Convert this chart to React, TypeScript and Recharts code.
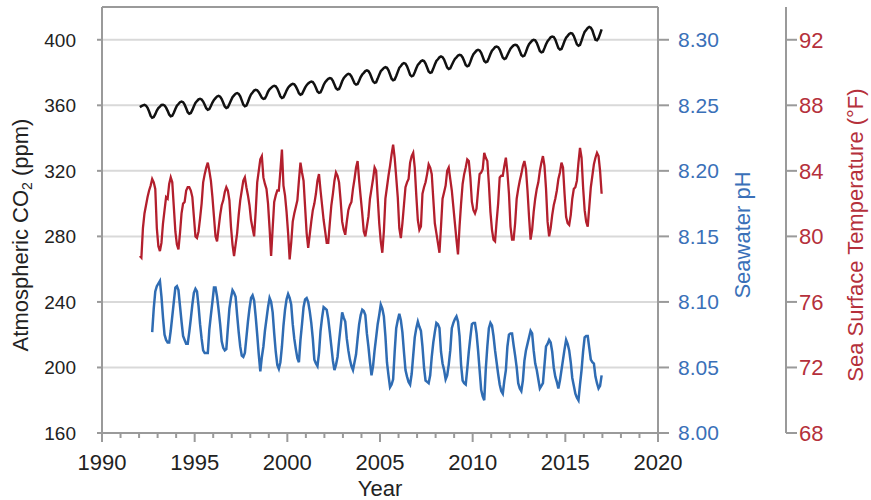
import React from "react";
import { LineChart, Line, XAxis, YAxis, CartesianGrid, ReferenceLine } from "recharts";

const FONT = '"Liberation Sans", Arial, Helvetica, sans-serif';
const AXIS_GRAY = "#9a9a9a";
const GRID_GRAY = "#d9d9d9";
const CO2_COLOR = "#111111";
const SST_COLOR = "#b31f2d";
const PH_COLOR = "#2f6cb3";
const SST_TEXT = "#b5303b";
const PH_TEXT = "#3a70b8";
const TICK_TEXT = "#222222";

const firstYear = 1992;
const labeledYears = [1990, 1995, 2000, 2005, 2010, 2015, 2020];
const co2Ticks = [160, 200, 240, 280, 320, 360, 400];
const phTicks = [8.0, 8.05, 8.1, 8.15, 8.2, 8.25, 8.3];
const sstTicks = [68, 72, 76, 80, 84, 88, 92];

// monthly values, one row per year (Jan..Dec), 1992-2016
const co2ByYear = [
  [358.9, 359.5, 360.0, 360.3, 359.8, 358.5, 356.2, 353.6, 352.4, 352.8, 354.6, 356.8],
  [358.3, 359.2, 360.2, 360.3, 359.9, 358.6, 356.6, 354.4, 353.3, 353.6, 355.5, 357.8],
  [359.8, 360.8, 361.9, 362.3, 361.9, 360.4, 358.2, 355.8, 354.9, 355.3, 357.2, 359.4],
  [361.5, 362.6, 363.6, 364.0, 363.6, 362.3, 360.4, 358.2, 357.3, 357.7, 359.6, 361.7],
  [363.3, 364.4, 365.4, 365.8, 365.3, 363.8, 361.6, 359.3, 358.4, 358.8, 360.8, 362.9],
  [365.0, 366.1, 367.1, 367.5, 367.0, 365.5, 363.0, 360.4, 359.4, 359.8, 362.0, 364.6],
  [366.7, 367.8, 369.0, 369.5, 369.2, 368.0, 366.4, 364.6, 363.9, 364.2, 366.0, 368.3],
  [369.7, 370.6, 371.5, 371.9, 371.6, 370.2, 368.0, 365.5, 364.5, 364.9, 366.8, 369.0],
  [370.8, 371.8, 372.7, 373.1, 372.8, 371.5, 369.6, 367.4, 366.5, 366.9, 368.8, 370.8],
  [372.3, 373.3, 374.1, 374.5, 374.2, 372.8, 370.7, 368.4, 367.6, 368.0, 370.0, 372.4],
  [374.1, 375.2, 376.2, 376.6, 376.3, 374.9, 372.7, 370.4, 369.6, 370.0, 372.1, 374.7],
  [376.6, 377.7, 378.7, 379.2, 378.9, 377.6, 375.6, 373.4, 372.6, 373.0, 375.0, 377.2],
  [378.8, 379.8, 380.9, 381.3, 380.9, 379.4, 377.0, 374.6, 373.7, 374.1, 376.3, 378.7],
  [380.8, 381.8, 382.8, 383.3, 382.9, 381.3, 378.8, 376.2, 375.3, 375.7, 377.9, 380.4],
  [382.9, 384.0, 385.2, 385.8, 385.4, 383.8, 381.3, 378.6, 377.7, 378.1, 380.2, 382.6],
  [384.7, 385.7, 386.9, 387.4, 387.0, 385.5, 383.1, 380.6, 379.8, 380.2, 382.4, 384.9],
  [387.1, 388.1, 389.3, 389.8, 389.4, 387.9, 385.5, 383.0, 382.2, 382.6, 384.6, 386.6],
  [388.3, 389.3, 390.4, 390.8, 390.5, 389.2, 387.0, 384.6, 383.8, 384.2, 386.5, 389.2],
  [391.2, 392.3, 393.4, 393.9, 393.5, 392.0, 389.6, 387.1, 386.3, 386.7, 388.9, 391.3],
  [393.3, 394.4, 395.5, 395.9, 395.5, 394.0, 391.6, 389.1, 388.3, 388.7, 390.7, 392.7],
  [394.6, 395.6, 396.6, 397.0, 396.8, 395.5, 393.2, 390.7, 389.9, 390.3, 392.6, 395.3],
  [397.3, 398.4, 399.5, 400.0, 399.7, 398.2, 395.7, 393.1, 392.3, 392.7, 394.9, 397.3],
  [399.2, 400.3, 401.5, 402.0, 401.7, 400.1, 397.5, 394.9, 394.0, 394.4, 396.7, 399.2],
  [401.3, 402.4, 403.6, 404.1, 403.8, 402.3, 399.8, 397.2, 396.4, 396.9, 399.5, 402.4],
  [404.8, 406.0, 407.2, 407.8, 407.4, 405.8, 402.8, 400.0, 399.7, 401.0, 403.6, 406.3],
];

const sstByYear = [
  [78.8, 78.7, 80.5, 81.4, 81.9, 82.4, 82.8, 83.1, 83.5, 83.3, 82.9, 80.5],
  [79.4, 79.1, 79.6, 80.8, 81.6, 82.4, 82.3, 83.2, 83.6, 83.3, 81.8, 80.3],
  [79.5, 79.2, 80.2, 81.4, 82.0, 82.1, 82.8, 83.0, 83.0, 82.8, 82.4, 81.2],
  [80.0, 79.9, 80.3, 81.1, 82.0, 83.3, 83.8, 84.2, 84.5, 84.0, 83.4, 82.4],
  [81.2, 80.0, 79.7, 80.5, 81.3, 81.9, 82.2, 82.7, 83.0, 82.8, 82.2, 80.6],
  [79.5, 78.8, 79.5, 80.2, 81.3, 82.2, 82.8, 83.4, 83.6, 83.0, 82.5, 81.9],
  [81.0, 80.5, 80.0, 81.5, 83.3, 84.0, 84.7, 84.9, 83.6, 83.2, 82.9, 82.0],
  [80.5, 78.8, 80.5, 82.1, 82.5, 82.8, 82.8, 84.0, 85.3, 83.1, 82.5, 81.5],
  [80.2, 78.6, 79.6, 80.9, 81.4, 81.8, 82.2, 83.4, 84.5, 83.9, 83.4, 81.8],
  [80.2, 79.3, 80.1, 80.9, 81.6, 82.0, 82.6, 83.4, 83.8, 82.8, 81.9, 81.0],
  [80.3, 79.6, 79.6, 80.8, 81.9, 82.6, 83.4, 83.9, 83.7, 83.3, 82.2, 80.9],
  [80.4, 80.1, 80.9, 81.6, 81.9, 82.1, 82.9, 83.5, 84.2, 84.6, 83.4, 82.4],
  [81.4, 80.3, 80.0, 80.6, 81.2, 82.3, 82.9, 83.5, 84.2, 84.0, 82.4, 80.8],
  [79.7, 79.0, 80.3, 82.3, 83.0, 83.7, 84.3, 85.0, 85.6, 84.8, 83.6, 82.4],
  [80.5, 79.9, 80.8, 81.9, 83.0, 83.3, 83.5, 84.5, 84.9, 85.1, 84.2, 82.5],
  [81.0, 80.4, 80.6, 82.6, 83.0, 83.3, 83.8, 84.4, 84.2, 83.8, 82.3, 80.8],
  [80.2, 79.6, 79.0, 80.6, 82.3, 82.7, 83.1, 84.0, 84.2, 83.5, 82.8, 81.8],
  [80.8, 79.8, 78.9, 80.6, 82.0, 83.2, 83.8, 84.2, 84.7, 84.6, 83.6, 82.1],
  [81.6, 81.4, 81.7, 82.8, 83.8, 83.9, 84.1, 85.1, 84.8, 84.6, 83.2, 81.5],
  [80.4, 79.8, 79.7, 80.9, 82.0, 83.6, 83.7, 83.7, 84.3, 84.8, 83.9, 82.6],
  [80.6, 79.8, 79.8, 80.8, 82.3, 82.9, 83.4, 83.8, 84.3, 84.6, 84.1, 82.8],
  [81.2, 79.8, 80.4, 81.5, 82.3, 82.9, 83.3, 84.0, 84.5, 84.9, 84.3, 82.9],
  [80.9, 80.0, 80.5, 81.3, 81.9, 82.3, 82.8, 83.5, 83.9, 84.5, 84.2, 82.6],
  [81.2, 80.8, 80.7, 81.3, 82.3, 82.9, 83.0, 83.4, 84.5, 85.4, 84.8, 83.0],
  [81.6, 80.9, 80.6, 81.8, 83.0, 83.7, 84.4, 84.8, 85.1, 84.9, 84.0, 82.6],
];

const phByYear = [
  [null, null, null, null, null, null, null, null, 8.077, 8.095, 8.108, 8.112],
  [8.114, 8.116, 8.104, 8.088, 8.075, 8.071, 8.069, 8.069, 8.078, 8.089, 8.1, 8.111],
  [8.112, 8.109, 8.097, 8.085, 8.074, 8.071, 8.068, 8.068, 8.077, 8.087, 8.098, 8.107],
  [8.11, 8.108, 8.097, 8.083, 8.072, 8.063, 8.061, 8.061, 8.061, 8.079, 8.09, 8.1],
  [8.111, 8.111, 8.104, 8.094, 8.083, 8.07, 8.065, 8.063, 8.064, 8.08, 8.095, 8.103],
  [8.109, 8.107, 8.104, 8.09, 8.077, 8.066, 8.059, 8.058, 8.061, 8.073, 8.085, 8.095],
  [8.103, 8.105, 8.101, 8.089, 8.075, 8.06, 8.047, 8.058, 8.066, 8.078, 8.087, 8.096],
  [8.103, 8.1, 8.092, 8.076, 8.062, 8.052, 8.049, 8.054, 8.066, 8.082, 8.094, 8.102],
  [8.106, 8.103, 8.098, 8.083, 8.072, 8.064, 8.057, 8.054, 8.071, 8.083, 8.096, 8.102],
  [8.103, 8.1, 8.093, 8.084, 8.072, 8.056, 8.053, 8.051, 8.061, 8.078, 8.088, 8.096],
  [8.095, 8.094, 8.087, 8.077, 8.066, 8.055, 8.048, 8.052, 8.058, 8.07, 8.081, 8.092],
  [8.088, 8.085, 8.072, 8.063, 8.056, 8.051, 8.048, 8.054, 8.06, 8.072, 8.083, 8.09],
  [8.094, 8.093, 8.09, 8.076, 8.066, 8.054, 8.044, 8.051, 8.063, 8.073, 8.083, 8.09],
  [8.098, 8.095, 8.089, 8.074, 8.054, 8.044, 8.035, 8.037, 8.041, 8.062, 8.08, 8.086],
  [8.091, 8.086, 8.077, 8.062, 8.048, 8.043, 8.039, 8.037, 8.045, 8.059, 8.073, 8.08],
  [8.085, 8.081, 8.078, 8.066, 8.05, 8.04, 8.039, 8.038, 8.044, 8.058, 8.069, 8.077],
  [8.084, 8.083, 8.08, 8.062, 8.053, 8.048, 8.041, 8.044, 8.052, 8.063, 8.08, 8.084],
  [8.087, 8.089, 8.085, 8.074, 8.052, 8.04, 8.038, 8.037, 8.049, 8.062, 8.073, 8.083],
  [8.084, 8.084, 8.076, 8.063, 8.048, 8.033, 8.028, 8.025, 8.049, 8.066, 8.08, 8.084],
  [8.082, 8.074, 8.063, 8.054, 8.045, 8.037, 8.032, 8.03, 8.04, 8.048, 8.066, 8.075],
  [8.076, 8.076, 8.067, 8.059, 8.05, 8.038, 8.034, 8.032, 8.04, 8.055, 8.063, 8.068],
  [8.073, 8.078, 8.076, 8.063, 8.053, 8.048, 8.041, 8.034, 8.036, 8.038, 8.052, 8.066],
  [8.068, 8.071, 8.069, 8.062, 8.05, 8.043, 8.039, 8.034, 8.04, 8.048, 8.056, 8.064],
  [8.071, 8.068, 8.063, 8.054, 8.042, 8.036, 8.03, 8.027, 8.025, 8.037, 8.048, 8.062],
  [8.073, 8.074, 8.074, 8.065, 8.056, 8.054, 8.053, 8.043, 8.038, 8.034, 8.036, 8.044],
];

const yearTicks = Array.from({ length: 31 }, (_, i) => 1990 + i);

const data = co2ByYear.flatMap((row, yi) =>
  row.map((co2, m) => ({
    year: firstYear + yi + (m + 0.5) / 12,
    co2,
    sst: sstByYear[yi][m],
    ph: phByYear[yi][m],
  }))
);

const YearTick = (props: any) => {
  const { x, y, payload } = props;
  const major = labeledYears.includes(payload.value);
  return (
    <g>
      <line x1={x} x2={x} y1={y} y2={y + (major ? 9 : 5)} stroke={AXIS_GRAY} strokeWidth={2} />
      {major && (
        <text x={x} y={y + 37} textAnchor="middle" fontSize={22} fill={TICK_TEXT}>
          {payload.value}
        </text>
      )}
    </g>
  );
};

// rotated axis title, baseline at viewBox.x + dx
const verticalTitle = (dx: number, color: string, text: React.ReactNode) => (p: any) => {
  const vb = p.viewBox || { x: 0, y: 7, width: 0, height: 426 };
  const cx = vb.x + dx;
  const cy = vb.y + vb.height / 2 + 15;
  return (
    <text x={cx} y={cy} transform={`rotate(-90 ${cx} ${cy})`} textAnchor="middle" fontSize={22} fill={color}>
      {text}
    </text>
  );
};

const co2Title = (
  <>
    <tspan>Atmospheric CO</tspan>
    <tspan dy={4} fontSize={14}>2</tspan>
    <tspan dy={-4}> (ppm)</tspan>
  </>
);

export default function App() {
  return (
    <div style={{ position: "absolute", left: 0, top: 0, width: 871, height: 500, background: "#fff", fontFamily: FONT }}>
      <LineChart width={871} height={500} data={data} margin={{ top: 7, right: 0, bottom: 0, left: 0 }}>
        <CartesianGrid yAxisId="co2" horizontal vertical={false} stroke={GRID_GRAY} strokeWidth={2} />
        <XAxis
          dataKey="year"
          type="number"
          domain={[1990, 2020]}
          ticks={yearTicks}
          interval={0}
          height={67}
          tickLine={false}
          tickSize={0}
          tickMargin={0}
          tick={YearTick}
          axisLine={{ stroke: AXIS_GRAY, strokeWidth: 2 }}
          label={{ value: "Year", position: "insideBottom", offset: 4, fontSize: 22, fill: TICK_TEXT }}
        />
        <YAxis
          yAxisId="co2"
          orientation="left"
          width={102}
          domain={[160, 420]}
          ticks={co2Ticks}
          interval={0}
          tickSize={5}
          tickMargin={21}
          tick={{ fontSize: 19, fill: TICK_TEXT }}
          tickLine={{ stroke: AXIS_GRAY, strokeWidth: 2 }}
          axisLine={{ stroke: AXIS_GRAY, strokeWidth: 2 }}
          label={verticalTitle(28, TICK_TEXT, co2Title)}
        />
        <YAxis
          yAxisId="ph"
          orientation="right"
          width={128}
          domain={[8.0, 8.325]}
          ticks={phTicks}
          interval={0}
          tickSize={11}
          tickMargin={9}
          tickFormatter={(v: number) => v.toFixed(2)}
          tick={{ fontSize: 21, fill: PH_TEXT }}
          tickLine={{ stroke: AXIS_GRAY, strokeWidth: 2 }}
          axisLine={{ stroke: AXIS_GRAY, strokeWidth: 2 }}
          label={verticalTitle(92, PH_TEXT, "Seawater pH")}
        />
        <YAxis
          yAxisId="sst"
          orientation="right"
          width={85}
          domain={[68, 94]}
          ticks={sstTicks}
          interval={0}
          tickSize={11}
          tickMargin={2}
          tick={{ fontSize: 22, fill: SST_TEXT }}
          tickLine={{ stroke: AXIS_GRAY, strokeWidth: 2 }}
          axisLine={{ stroke: AXIS_GRAY, strokeWidth: 2 }}
          label={verticalTitle(76.5, SST_TEXT, "Sea Surface Temperature (°F)")}
        />
        <ReferenceLine yAxisId="co2" y={420} stroke={AXIS_GRAY} strokeWidth={2} />
        <Line yAxisId="co2" type="linear" dataKey="co2" stroke={CO2_COLOR} strokeWidth={2.5} dot={false} isAnimationActive={false} />
        <Line yAxisId="sst" type="linear" dataKey="sst" stroke={SST_COLOR} strokeWidth={2.3} dot={false} isAnimationActive={false} />
        <Line yAxisId="ph" type="linear" dataKey="ph" stroke={PH_COLOR} strokeWidth={2.5} dot={false} isAnimationActive={false} />
      </LineChart>
    </div>
  );
}
